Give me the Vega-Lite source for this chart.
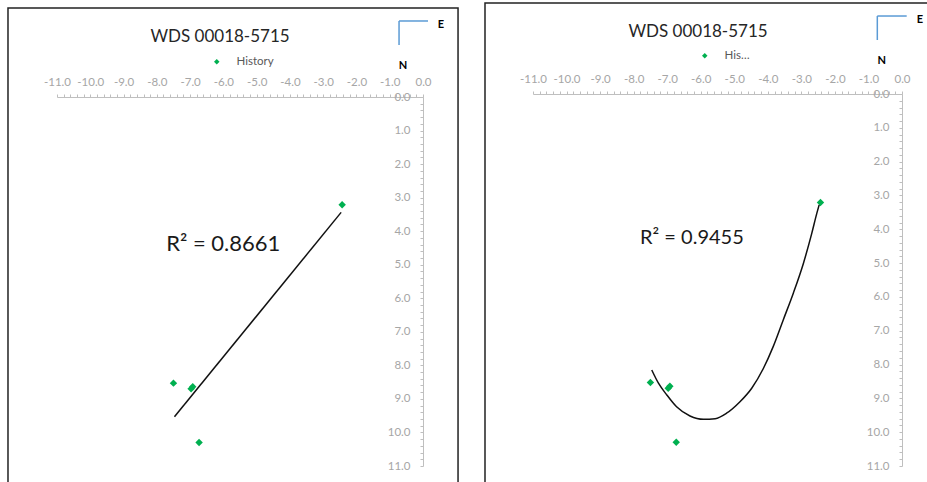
{
  "$schema": "https://vega.github.io/schema/vega-lite/v6.json",
  "width": 927,
  "height": 482,
  "autosize": {"type": "none"},
  "padding": 0,
  "config": {
    "view": {"stroke": null},
    "font": "Lato",
    "axis": {"grid": false, "domainColor": "#BFBFBF", "tickColor": "#BFBFBF", "tickSize": 3, "labelColor": "#A6A6A6", "labelFont": "Lato", "labelFontSize": 11.5, "labelOverlap": false, "labelFlush": false, "labelBound": false}
  },
  "datasets": {
    "points": [
      {"x": -2.43, "y": 3.21, "series": "History"},
      {"x": -7.5, "y": 8.53, "series": "History"},
      {"x": -6.97, "y": 8.7, "series": "History"},
      {"x": -6.92, "y": 8.64, "series": "History"},
      {"x": -6.73, "y": 10.3, "series": "History"}
    ],
    "linfit": [
      {"x": -7.47, "y": 9.53},
      {"x": -2.46, "y": 3.44}
    ],
    "polyfit": [
      {"x": -7.46, "y": 8.16},
      {"x": -7.26, "y": 8.55},
      {"x": -7.01, "y": 8.9},
      {"x": -6.72, "y": 9.25},
      {"x": -6.32, "y": 9.52},
      {"x": -5.92, "y": 9.62},
      {"x": -5.57, "y": 9.6},
      {"x": -5.23, "y": 9.44},
      {"x": -4.83, "y": 9.1},
      {"x": -4.48, "y": 8.7},
      {"x": -4.13, "y": 8.11},
      {"x": -3.84, "y": 7.47},
      {"x": -3.54, "y": 6.68},
      {"x": -3.24, "y": 5.89},
      {"x": -2.94, "y": 5.01},
      {"x": -2.69, "y": 4.12},
      {"x": -2.54, "y": 3.53},
      {"x": -2.47, "y": 3.28}
    ]
  },
  "layer": [
    {
      "layer": [
        {
          "data": {"name": "points"},
          "mark": {"type": "point", "shape": "diamond", "filled": true, "size": 55, "opacity": 1},
          "encoding": {
            "x": {"field": "x", "type": "quantitative", "scale": {"domain": [-11, 0], "range": [57, 423], "nice": false, "zero": false},
              "axis": {"orient": "top", "offset": -97, "title": null, "labelPadding": 7, "values": [-11,-10.8,-10.6,-10.4,-10.2,-10,-9.8,-9.6,-9.4,-9.2,-9,-8.8,-8.6,-8.4,-8.2,-8,-7.8,-7.6,-7.4,-7.2,-7,-6.8,-6.6,-6.4,-6.2,-6,-5.8,-5.6,-5.4,-5.2,-5,-4.8,-4.6,-4.4,-4.2,-4,-3.8,-3.6,-3.4,-3.2,-3,-2.8,-2.6,-2.4,-2.2,-2,-1.8,-1.6,-1.4,-1.2,-1,-0.8,-0.6,-0.4,-0.2,0], "labelExpr": "abs(datum.value - round(datum.value)) < 0.01 ? (datum.value < -0.001 ? '-' + format(-datum.value, '.1f') : format(abs(datum.value), '.1f')) : ''"}},
            "y": {"field": "y", "type": "quantitative", "scale": {"domain": [0, 11], "range": [97, 466], "nice": false, "zero": false},
              "axis": {"orient": "left", "offset": -423, "title": null, "labelPadding": 10, "values": [0,0.2,0.4,0.6,0.8,1,1.2,1.4,1.6,1.8,2,2.2,2.4,2.6,2.8,3,3.2,3.4,3.6,3.8,4,4.2,4.4,4.6,4.8,5,5.2,5.4,5.6,5.8,6,6.2,6.4,6.6,6.8,7,7.2,7.4,7.6,7.8,8,8.2,8.4,8.6,8.8,9,9.2,9.4,9.6,9.8,10,10.2,10.4,10.6,10.8,11], "labelExpr": "abs(datum.value - round(datum.value)) < 0.01 ? format(abs(datum.value), '.1f') : ''"}},
            "color": {"field": "series", "type": "nominal", "scale": {"range": ["#00B050"]},
              "legend": {"orient": "none", "legendX": 211, "legendY": 56, "title": null, "symbolType": "diamond", "symbolSize": 30,
                "labelFont": "Lato", "labelFontSize": 11.5, "labelColor": "#595959", "labelOffset": 14}}
          }
        },
        {
          "data": {"values": [{}]},
          "mark": {"type": "rect", "filled": false, "fillOpacity": 0, "stroke": "#222222", "strokeWidth": 1.5},
          "encoding": {
            "x": {"datum": -12.473, "type": "quantitative", "scale": {"domain": [-11, 0], "range": [57, 423], "nice": false, "zero": false},
              "axis": {"orient": "top", "offset": -97, "title": null, "labelPadding": 7, "values": [-11,-10.8,-10.6,-10.4,-10.2,-10,-9.8,-9.6,-9.4,-9.2,-9,-8.8,-8.6,-8.4,-8.2,-8,-7.8,-7.6,-7.4,-7.2,-7,-6.8,-6.6,-6.4,-6.2,-6,-5.8,-5.6,-5.4,-5.2,-5,-4.8,-4.6,-4.4,-4.2,-4,-3.8,-3.6,-3.4,-3.2,-3,-2.8,-2.6,-2.4,-2.2,-2,-1.8,-1.6,-1.4,-1.2,-1,-0.8,-0.6,-0.4,-0.2,0], "labelExpr": "abs(datum.value - round(datum.value)) < 0.01 ? (datum.value < -0.001 ? '-' + format(-datum.value, '.1f') : format(abs(datum.value), '.1f')) : ''"}},
            "x2": {"datum": 1.053},
            "y": {"datum": -2.653, "type": "quantitative", "scale": {"domain": [0, 11], "range": [97, 466], "nice": false, "zero": false},
              "axis": {"orient": "left", "offset": -423, "title": null, "labelPadding": 10, "values": [0,0.2,0.4,0.6,0.8,1,1.2,1.4,1.6,1.8,2,2.2,2.4,2.6,2.8,3,3.2,3.4,3.6,3.8,4,4.2,4.4,4.6,4.8,5,5.2,5.4,5.6,5.8,6,6.2,6.4,6.6,6.8,7,7.2,7.4,7.6,7.8,8,8.2,8.4,8.6,8.8,9,9.2,9.4,9.6,9.8,10,10.2,10.4,10.6,10.8,11], "labelExpr": "abs(datum.value - round(datum.value)) < 0.01 ? format(abs(datum.value), '.1f') : ''"}},
            "y2": {"datum": 12.5}
          }
        },
        {
          "data": {"name": "linfit"},
          "mark": {"type": "line", "color": "#111111", "strokeWidth": 1.5},
          "encoding": {
            "x": {"field": "x", "type": "quantitative", "scale": {"domain": [-11, 0], "range": [57, 423], "nice": false, "zero": false},
              "axis": {"orient": "top", "offset": -97, "title": null, "labelPadding": 7, "values": [-11,-10.8,-10.6,-10.4,-10.2,-10,-9.8,-9.6,-9.4,-9.2,-9,-8.8,-8.6,-8.4,-8.2,-8,-7.8,-7.6,-7.4,-7.2,-7,-6.8,-6.6,-6.4,-6.2,-6,-5.8,-5.6,-5.4,-5.2,-5,-4.8,-4.6,-4.4,-4.2,-4,-3.8,-3.6,-3.4,-3.2,-3,-2.8,-2.6,-2.4,-2.2,-2,-1.8,-1.6,-1.4,-1.2,-1,-0.8,-0.6,-0.4,-0.2,0], "labelExpr": "abs(datum.value - round(datum.value)) < 0.01 ? (datum.value < -0.001 ? '-' + format(-datum.value, '.1f') : format(abs(datum.value), '.1f')) : ''"}},
            "y": {"field": "y", "type": "quantitative", "scale": {"domain": [0, 11], "range": [97, 466], "nice": false, "zero": false},
              "axis": {"orient": "left", "offset": -423, "title": null, "labelPadding": 10, "values": [0,0.2,0.4,0.6,0.8,1,1.2,1.4,1.6,1.8,2,2.2,2.4,2.6,2.8,3,3.2,3.4,3.6,3.8,4,4.2,4.4,4.6,4.8,5,5.2,5.4,5.6,5.8,6,6.2,6.4,6.6,6.8,7,7.2,7.4,7.6,7.8,8,8.2,8.4,8.6,8.8,9,9.2,9.4,9.6,9.8,10,10.2,10.4,10.6,10.8,11], "labelExpr": "abs(datum.value - round(datum.value)) < 0.01 ? format(abs(datum.value), '.1f') : ''"}}
          }
        },
        {
          "data": {"values": [{}]},
          "mark": {"type": "text", "text": "WDS 00018-5715", "font": "Lato", "fontSize": 17, "color": "#262626", "align": "center", "baseline": "middle"},
          "encoding": {
            "x": {"datum": -6.1, "type": "quantitative",
              "axis": {"orient": "top", "offset": -97, "title": null, "labelPadding": 7, "values": [-11,-10.8,-10.6,-10.4,-10.2,-10,-9.8,-9.6,-9.4,-9.2,-9,-8.8,-8.6,-8.4,-8.2,-8,-7.8,-7.6,-7.4,-7.2,-7,-6.8,-6.6,-6.4,-6.2,-6,-5.8,-5.6,-5.4,-5.2,-5,-4.8,-4.6,-4.4,-4.2,-4,-3.8,-3.6,-3.4,-3.2,-3,-2.8,-2.6,-2.4,-2.2,-2,-1.8,-1.6,-1.4,-1.2,-1,-0.8,-0.6,-0.4,-0.2,0], "labelExpr": "abs(datum.value - round(datum.value)) < 0.01 ? (datum.value < -0.001 ? '-' + format(-datum.value, '.1f') : format(abs(datum.value), '.1f')) : ''"}},
            "y": {"datum": -1.79, "type": "quantitative",
              "axis": {"orient": "left", "offset": -423, "title": null, "labelPadding": 10, "values": [0,0.2,0.4,0.6,0.8,1,1.2,1.4,1.6,1.8,2,2.2,2.4,2.6,2.8,3,3.2,3.4,3.6,3.8,4,4.2,4.4,4.6,4.8,5,5.2,5.4,5.6,5.8,6,6.2,6.4,6.6,6.8,7,7.2,7.4,7.6,7.8,8,8.2,8.4,8.6,8.8,9,9.2,9.4,9.6,9.8,10,10.2,10.4,10.6,10.8,11], "labelExpr": "abs(datum.value - round(datum.value)) < 0.01 ? format(abs(datum.value), '.1f') : ''"}}
          }
        },
        {
          "data": {"values": [{}]},
          "mark": {"type": "text", "text": "R² = 0.8661", "font": "Lato", "fontSize": 22, "color": "#1A1A1A", "align": "left", "baseline": "alphabetic"},
          "encoding": {
            "x": {"datum": -7.72, "type": "quantitative",
              "axis": {"orient": "top", "offset": -97, "title": null, "labelPadding": 7, "values": [-11,-10.8,-10.6,-10.4,-10.2,-10,-9.8,-9.6,-9.4,-9.2,-9,-8.8,-8.6,-8.4,-8.2,-8,-7.8,-7.6,-7.4,-7.2,-7,-6.8,-6.6,-6.4,-6.2,-6,-5.8,-5.6,-5.4,-5.2,-5,-4.8,-4.6,-4.4,-4.2,-4,-3.8,-3.6,-3.4,-3.2,-3,-2.8,-2.6,-2.4,-2.2,-2,-1.8,-1.6,-1.4,-1.2,-1,-0.8,-0.6,-0.4,-0.2,0], "labelExpr": "abs(datum.value - round(datum.value)) < 0.01 ? (datum.value < -0.001 ? '-' + format(-datum.value, '.1f') : format(abs(datum.value), '.1f')) : ''"}},
            "y": {"datum": 4.59, "type": "quantitative",
              "axis": {"orient": "left", "offset": -423, "title": null, "labelPadding": 10, "values": [0,0.2,0.4,0.6,0.8,1,1.2,1.4,1.6,1.8,2,2.2,2.4,2.6,2.8,3,3.2,3.4,3.6,3.8,4,4.2,4.4,4.6,4.8,5,5.2,5.4,5.6,5.8,6,6.2,6.4,6.6,6.8,7,7.2,7.4,7.6,7.8,8,8.2,8.4,8.6,8.8,9,9.2,9.4,9.6,9.8,10,10.2,10.4,10.6,10.8,11], "labelExpr": "abs(datum.value - round(datum.value)) < 0.01 ? format(abs(datum.value), '.1f') : ''"}}
          }
        },
        {
          "data": {"values": [{}]},
          "mark": {"type": "rule", "color": "#5B9BD5", "strokeWidth": 1.5},
          "encoding": {
            "x": {"datum": -0.72, "type": "quantitative",
              "axis": {"orient": "top", "offset": -97, "title": null, "labelPadding": 7, "values": [-11,-10.8,-10.6,-10.4,-10.2,-10,-9.8,-9.6,-9.4,-9.2,-9,-8.8,-8.6,-8.4,-8.2,-8,-7.8,-7.6,-7.4,-7.2,-7,-6.8,-6.6,-6.4,-6.2,-6,-5.8,-5.6,-5.4,-5.2,-5,-4.8,-4.6,-4.4,-4.2,-4,-3.8,-3.6,-3.4,-3.2,-3,-2.8,-2.6,-2.4,-2.2,-2,-1.8,-1.6,-1.4,-1.2,-1,-0.8,-0.6,-0.4,-0.2,0], "labelExpr": "abs(datum.value - round(datum.value)) < 0.01 ? (datum.value < -0.001 ? '-' + format(-datum.value, '.1f') : format(abs(datum.value), '.1f')) : ''"}},
            "x2": {"datum": 0.151},
            "y": {"datum": -2.266, "type": "quantitative",
              "axis": {"orient": "left", "offset": -423, "title": null, "labelPadding": 10, "values": [0,0.2,0.4,0.6,0.8,1,1.2,1.4,1.6,1.8,2,2.2,2.4,2.6,2.8,3,3.2,3.4,3.6,3.8,4,4.2,4.4,4.6,4.8,5,5.2,5.4,5.6,5.8,6,6.2,6.4,6.6,6.8,7,7.2,7.4,7.6,7.8,8,8.2,8.4,8.6,8.8,9,9.2,9.4,9.6,9.8,10,10.2,10.4,10.6,10.8,11], "labelExpr": "abs(datum.value - round(datum.value)) < 0.01 ? format(abs(datum.value), '.1f') : ''"}}
          }
        },
        {
          "data": {"values": [{}]},
          "mark": {"type": "rule", "color": "#5B9BD5", "strokeWidth": 1.5},
          "encoding": {
            "x": {"datum": -0.72, "type": "quantitative",
              "axis": {"orient": "top", "offset": -97, "title": null, "labelPadding": 7, "values": [-11,-10.8,-10.6,-10.4,-10.2,-10,-9.8,-9.6,-9.4,-9.2,-9,-8.8,-8.6,-8.4,-8.2,-8,-7.8,-7.6,-7.4,-7.2,-7,-6.8,-6.6,-6.4,-6.2,-6,-5.8,-5.6,-5.4,-5.2,-5,-4.8,-4.6,-4.4,-4.2,-4,-3.8,-3.6,-3.4,-3.2,-3,-2.8,-2.6,-2.4,-2.2,-2,-1.8,-1.6,-1.4,-1.2,-1,-0.8,-0.6,-0.4,-0.2,0], "labelExpr": "abs(datum.value - round(datum.value)) < 0.01 ? (datum.value < -0.001 ? '-' + format(-datum.value, '.1f') : format(abs(datum.value), '.1f')) : ''"}},
            "y": {"datum": -2.266, "type": "quantitative",
              "axis": {"orient": "left", "offset": -423, "title": null, "labelPadding": 10, "values": [0,0.2,0.4,0.6,0.8,1,1.2,1.4,1.6,1.8,2,2.2,2.4,2.6,2.8,3,3.2,3.4,3.6,3.8,4,4.2,4.4,4.6,4.8,5,5.2,5.4,5.6,5.8,6,6.2,6.4,6.6,6.8,7,7.2,7.4,7.6,7.8,8,8.2,8.4,8.6,8.8,9,9.2,9.4,9.6,9.8,10,10.2,10.4,10.6,10.8,11], "labelExpr": "abs(datum.value - round(datum.value)) < 0.01 ? format(abs(datum.value), '.1f') : ''"}},
            "y2": {"datum": -1.55}
          }
        },
        {
          "data": {"values": [{}]},
          "mark": {"type": "text", "text": "E", "font": "Lato", "fontSize": 11, "fontWeight": "bold", "color": "#000000", "align": "center", "baseline": "middle"},
          "encoding": {
            "x": {"datum": 0.54, "type": "quantitative",
              "axis": {"orient": "top", "offset": -97, "title": null, "labelPadding": 7, "values": [-11,-10.8,-10.6,-10.4,-10.2,-10,-9.8,-9.6,-9.4,-9.2,-9,-8.8,-8.6,-8.4,-8.2,-8,-7.8,-7.6,-7.4,-7.2,-7,-6.8,-6.6,-6.4,-6.2,-6,-5.8,-5.6,-5.4,-5.2,-5,-4.8,-4.6,-4.4,-4.2,-4,-3.8,-3.6,-3.4,-3.2,-3,-2.8,-2.6,-2.4,-2.2,-2,-1.8,-1.6,-1.4,-1.2,-1,-0.8,-0.6,-0.4,-0.2,0], "labelExpr": "abs(datum.value - round(datum.value)) < 0.01 ? (datum.value < -0.001 ? '-' + format(-datum.value, '.1f') : format(abs(datum.value), '.1f')) : ''"}},
            "y": {"datum": -2.146, "type": "quantitative",
              "axis": {"orient": "left", "offset": -423, "title": null, "labelPadding": 10, "values": [0,0.2,0.4,0.6,0.8,1,1.2,1.4,1.6,1.8,2,2.2,2.4,2.6,2.8,3,3.2,3.4,3.6,3.8,4,4.2,4.4,4.6,4.8,5,5.2,5.4,5.6,5.8,6,6.2,6.4,6.6,6.8,7,7.2,7.4,7.6,7.8,8,8.2,8.4,8.6,8.8,9,9.2,9.4,9.6,9.8,10,10.2,10.4,10.6,10.8,11], "labelExpr": "abs(datum.value - round(datum.value)) < 0.01 ? format(abs(datum.value), '.1f') : ''"}}
          }
        },
        {
          "data": {"values": [{}]},
          "mark": {"type": "text", "text": "N", "font": "Lato", "fontSize": 11, "fontWeight": "bold", "color": "#000000", "align": "center", "baseline": "middle"},
          "encoding": {
            "x": {"datum": -0.6, "type": "quantitative",
              "axis": {"orient": "top", "offset": -97, "title": null, "labelPadding": 7, "values": [-11,-10.8,-10.6,-10.4,-10.2,-10,-9.8,-9.6,-9.4,-9.2,-9,-8.8,-8.6,-8.4,-8.2,-8,-7.8,-7.6,-7.4,-7.2,-7,-6.8,-6.6,-6.4,-6.2,-6,-5.8,-5.6,-5.4,-5.2,-5,-4.8,-4.6,-4.4,-4.2,-4,-3.8,-3.6,-3.4,-3.2,-3,-2.8,-2.6,-2.4,-2.2,-2,-1.8,-1.6,-1.4,-1.2,-1,-0.8,-0.6,-0.4,-0.2,0], "labelExpr": "abs(datum.value - round(datum.value)) < 0.01 ? (datum.value < -0.001 ? '-' + format(-datum.value, '.1f') : format(abs(datum.value), '.1f')) : ''"}},
            "y": {"datum": -0.924, "type": "quantitative",
              "axis": {"orient": "left", "offset": -423, "title": null, "labelPadding": 10, "values": [0,0.2,0.4,0.6,0.8,1,1.2,1.4,1.6,1.8,2,2.2,2.4,2.6,2.8,3,3.2,3.4,3.6,3.8,4,4.2,4.4,4.6,4.8,5,5.2,5.4,5.6,5.8,6,6.2,6.4,6.6,6.8,7,7.2,7.4,7.6,7.8,8,8.2,8.4,8.6,8.8,9,9.2,9.4,9.6,9.8,10,10.2,10.4,10.6,10.8,11], "labelExpr": "abs(datum.value - round(datum.value)) < 0.01 ? format(abs(datum.value), '.1f') : ''"}}
          }
        }
      ]
    },
    {
      "layer": [
        {
          "data": {"name": "points"},
          "mark": {"type": "point", "shape": "diamond", "filled": true, "size": 55, "opacity": 1},
          "encoding": {
            "x": {"field": "x", "type": "quantitative", "scale": {"domain": [-11, 0], "range": [533, 902], "nice": false, "zero": false},
              "axis": {"orient": "top", "offset": -94, "title": null, "labelPadding": 7, "values": [-11,-10.8,-10.6,-10.4,-10.2,-10,-9.8,-9.6,-9.4,-9.2,-9,-8.8,-8.6,-8.4,-8.2,-8,-7.8,-7.6,-7.4,-7.2,-7,-6.8,-6.6,-6.4,-6.2,-6,-5.8,-5.6,-5.4,-5.2,-5,-4.8,-4.6,-4.4,-4.2,-4,-3.8,-3.6,-3.4,-3.2,-3,-2.8,-2.6,-2.4,-2.2,-2,-1.8,-1.6,-1.4,-1.2,-1,-0.8,-0.6,-0.4,-0.2,0], "labelExpr": "abs(datum.value - round(datum.value)) < 0.01 ? (datum.value < -0.001 ? '-' + format(-datum.value, '.1f') : format(abs(datum.value), '.1f')) : ''"}},
            "y": {"field": "y", "type": "quantitative", "scale": {"domain": [0, 11], "range": [94, 466], "nice": false, "zero": false},
              "axis": {"orient": "left", "offset": -902, "title": null, "labelPadding": 10, "values": [0,0.2,0.4,0.6,0.8,1,1.2,1.4,1.6,1.8,2,2.2,2.4,2.6,2.8,3,3.2,3.4,3.6,3.8,4,4.2,4.4,4.6,4.8,5,5.2,5.4,5.6,5.8,6,6.2,6.4,6.6,6.8,7,7.2,7.4,7.6,7.8,8,8.2,8.4,8.6,8.8,9,9.2,9.4,9.6,9.8,10,10.2,10.4,10.6,10.8,11], "labelExpr": "abs(datum.value - round(datum.value)) < 0.01 ? format(abs(datum.value), '.1f') : ''"}},
            "color": {"field": "series", "type": "nominal", "scale": {"range": ["#00B050"]},
              "legend": {"orient": "none", "legendX": 699, "legendY": 50, "title": null, "symbolType": "diamond", "symbolSize": 30,
                "labelFont": "Lato", "labelFontSize": 11.5, "labelColor": "#595959", "labelOffset": 14, "labelLimit": 29}}
          }
        },
        {
          "data": {"values": [{}]},
          "mark": {"type": "rect", "filled": false, "fillOpacity": 0, "stroke": "#222222", "strokeWidth": 1.5},
          "encoding": {
            "x": {"datum": -12.431, "type": "quantitative", "scale": {"domain": [-11, 0], "range": [533, 902], "nice": false, "zero": false},
              "axis": {"orient": "top", "offset": -94, "title": null, "labelPadding": 7, "values": [-11,-10.8,-10.6,-10.4,-10.2,-10,-9.8,-9.6,-9.4,-9.2,-9,-8.8,-8.6,-8.4,-8.2,-8,-7.8,-7.6,-7.4,-7.2,-7,-6.8,-6.6,-6.4,-6.2,-6,-5.8,-5.6,-5.4,-5.2,-5,-4.8,-4.6,-4.4,-4.2,-4,-3.8,-3.6,-3.4,-3.2,-3,-2.8,-2.6,-2.4,-2.2,-2,-1.8,-1.6,-1.4,-1.2,-1,-0.8,-0.6,-0.4,-0.2,0], "labelExpr": "abs(datum.value - round(datum.value)) < 0.01 ? (datum.value < -0.001 ? '-' + format(-datum.value, '.1f') : format(abs(datum.value), '.1f')) : ''"}},
            "x2": {"datum": 1.6},
            "y": {"datum": -2.69, "type": "quantitative", "scale": {"domain": [0, 11], "range": [94, 466], "nice": false, "zero": false},
              "axis": {"orient": "left", "offset": -902, "title": null, "labelPadding": 10, "values": [0,0.2,0.4,0.6,0.8,1,1.2,1.4,1.6,1.8,2,2.2,2.4,2.6,2.8,3,3.2,3.4,3.6,3.8,4,4.2,4.4,4.6,4.8,5,5.2,5.4,5.6,5.8,6,6.2,6.4,6.6,6.8,7,7.2,7.4,7.6,7.8,8,8.2,8.4,8.6,8.8,9,9.2,9.4,9.6,9.8,10,10.2,10.4,10.6,10.8,11], "labelExpr": "abs(datum.value - round(datum.value)) < 0.01 ? format(abs(datum.value), '.1f') : ''"}},
            "y2": {"datum": 12.5}
          }
        },
        {
          "data": {"name": "polyfit"},
          "mark": {"type": "line", "color": "#111111", "strokeWidth": 1.5, "interpolate": "monotone"},
          "encoding": {
            "x": {"field": "x", "type": "quantitative", "scale": {"domain": [-11, 0], "range": [533, 902], "nice": false, "zero": false},
              "axis": {"orient": "top", "offset": -94, "title": null, "labelPadding": 7, "values": [-11,-10.8,-10.6,-10.4,-10.2,-10,-9.8,-9.6,-9.4,-9.2,-9,-8.8,-8.6,-8.4,-8.2,-8,-7.8,-7.6,-7.4,-7.2,-7,-6.8,-6.6,-6.4,-6.2,-6,-5.8,-5.6,-5.4,-5.2,-5,-4.8,-4.6,-4.4,-4.2,-4,-3.8,-3.6,-3.4,-3.2,-3,-2.8,-2.6,-2.4,-2.2,-2,-1.8,-1.6,-1.4,-1.2,-1,-0.8,-0.6,-0.4,-0.2,0], "labelExpr": "abs(datum.value - round(datum.value)) < 0.01 ? (datum.value < -0.001 ? '-' + format(-datum.value, '.1f') : format(abs(datum.value), '.1f')) : ''"}},
            "y": {"field": "y", "type": "quantitative", "scale": {"domain": [0, 11], "range": [94, 466], "nice": false, "zero": false},
              "axis": {"orient": "left", "offset": -902, "title": null, "labelPadding": 10, "values": [0,0.2,0.4,0.6,0.8,1,1.2,1.4,1.6,1.8,2,2.2,2.4,2.6,2.8,3,3.2,3.4,3.6,3.8,4,4.2,4.4,4.6,4.8,5,5.2,5.4,5.6,5.8,6,6.2,6.4,6.6,6.8,7,7.2,7.4,7.6,7.8,8,8.2,8.4,8.6,8.8,9,9.2,9.4,9.6,9.8,10,10.2,10.4,10.6,10.8,11], "labelExpr": "abs(datum.value - round(datum.value)) < 0.01 ? format(abs(datum.value), '.1f') : ''"}}
          }
        },
        {
          "data": {"values": [{}]},
          "mark": {"type": "text", "text": "WDS 00018-5715", "font": "Lato", "fontSize": 17, "color": "#262626", "align": "center", "baseline": "middle"},
          "encoding": {
            "x": {"datum": -6.08, "type": "quantitative",
              "axis": {"orient": "top", "offset": -94, "title": null, "labelPadding": 7, "values": [-11,-10.8,-10.6,-10.4,-10.2,-10,-9.8,-9.6,-9.4,-9.2,-9,-8.8,-8.6,-8.4,-8.2,-8,-7.8,-7.6,-7.4,-7.2,-7,-6.8,-6.6,-6.4,-6.2,-6,-5.8,-5.6,-5.4,-5.2,-5,-4.8,-4.6,-4.4,-4.2,-4,-3.8,-3.6,-3.4,-3.2,-3,-2.8,-2.6,-2.4,-2.2,-2,-1.8,-1.6,-1.4,-1.2,-1,-0.8,-0.6,-0.4,-0.2,0], "labelExpr": "abs(datum.value - round(datum.value)) < 0.01 ? (datum.value < -0.001 ? '-' + format(-datum.value, '.1f') : format(abs(datum.value), '.1f')) : ''"}},
            "y": {"datum": -1.833, "type": "quantitative",
              "axis": {"orient": "left", "offset": -902, "title": null, "labelPadding": 10, "values": [0,0.2,0.4,0.6,0.8,1,1.2,1.4,1.6,1.8,2,2.2,2.4,2.6,2.8,3,3.2,3.4,3.6,3.8,4,4.2,4.4,4.6,4.8,5,5.2,5.4,5.6,5.8,6,6.2,6.4,6.6,6.8,7,7.2,7.4,7.6,7.8,8,8.2,8.4,8.6,8.8,9,9.2,9.4,9.6,9.8,10,10.2,10.4,10.6,10.8,11], "labelExpr": "abs(datum.value - round(datum.value)) < 0.01 ? format(abs(datum.value), '.1f') : ''"}}
          }
        },
        {
          "data": {"values": [{}]},
          "mark": {"type": "text", "text": "R² = 0.9455", "font": "Lato", "fontSize": 20, "color": "#1A1A1A", "align": "left", "baseline": "alphabetic"},
          "encoding": {
            "x": {"datum": -7.81, "type": "quantitative",
              "axis": {"orient": "top", "offset": -94, "title": null, "labelPadding": 7, "values": [-11,-10.8,-10.6,-10.4,-10.2,-10,-9.8,-9.6,-9.4,-9.2,-9,-8.8,-8.6,-8.4,-8.2,-8,-7.8,-7.6,-7.4,-7.2,-7,-6.8,-6.6,-6.4,-6.2,-6,-5.8,-5.6,-5.4,-5.2,-5,-4.8,-4.6,-4.4,-4.2,-4,-3.8,-3.6,-3.4,-3.2,-3,-2.8,-2.6,-2.4,-2.2,-2,-1.8,-1.6,-1.4,-1.2,-1,-0.8,-0.6,-0.4,-0.2,0], "labelExpr": "abs(datum.value - round(datum.value)) < 0.01 ? (datum.value < -0.001 ? '-' + format(-datum.value, '.1f') : format(abs(datum.value), '.1f')) : ''"}},
            "y": {"datum": 4.435, "type": "quantitative",
              "axis": {"orient": "left", "offset": -902, "title": null, "labelPadding": 10, "values": [0,0.2,0.4,0.6,0.8,1,1.2,1.4,1.6,1.8,2,2.2,2.4,2.6,2.8,3,3.2,3.4,3.6,3.8,4,4.2,4.4,4.6,4.8,5,5.2,5.4,5.6,5.8,6,6.2,6.4,6.6,6.8,7,7.2,7.4,7.6,7.8,8,8.2,8.4,8.6,8.8,9,9.2,9.4,9.6,9.8,10,10.2,10.4,10.6,10.8,11], "labelExpr": "abs(datum.value - round(datum.value)) < 0.01 ? format(abs(datum.value), '.1f') : ''"}}
          }
        },
        {
          "data": {"values": [{}]},
          "mark": {"type": "rule", "color": "#5B9BD5", "strokeWidth": 1.5},
          "encoding": {
            "x": {"datum": -0.736, "type": "quantitative",
              "axis": {"orient": "top", "offset": -94, "title": null, "labelPadding": 7, "values": [-11,-10.8,-10.6,-10.4,-10.2,-10,-9.8,-9.6,-9.4,-9.2,-9,-8.8,-8.6,-8.4,-8.2,-8,-7.8,-7.6,-7.4,-7.2,-7,-6.8,-6.6,-6.4,-6.2,-6,-5.8,-5.6,-5.4,-5.2,-5,-4.8,-4.6,-4.4,-4.2,-4,-3.8,-3.6,-3.4,-3.2,-3,-2.8,-2.6,-2.4,-2.2,-2,-1.8,-1.6,-1.4,-1.2,-1,-0.8,-0.6,-0.4,-0.2,0], "labelExpr": "abs(datum.value - round(datum.value)) < 0.01 ? (datum.value < -0.001 ? '-' + format(-datum.value, '.1f') : format(abs(datum.value), '.1f')) : ''"}},
            "x2": {"datum": 0.14},
            "y": {"datum": -2.306, "type": "quantitative",
              "axis": {"orient": "left", "offset": -902, "title": null, "labelPadding": 10, "values": [0,0.2,0.4,0.6,0.8,1,1.2,1.4,1.6,1.8,2,2.2,2.4,2.6,2.8,3,3.2,3.4,3.6,3.8,4,4.2,4.4,4.6,4.8,5,5.2,5.4,5.6,5.8,6,6.2,6.4,6.6,6.8,7,7.2,7.4,7.6,7.8,8,8.2,8.4,8.6,8.8,9,9.2,9.4,9.6,9.8,10,10.2,10.4,10.6,10.8,11], "labelExpr": "abs(datum.value - round(datum.value)) < 0.01 ? format(abs(datum.value), '.1f') : ''"}}
          }
        },
        {
          "data": {"values": [{}]},
          "mark": {"type": "rule", "color": "#5B9BD5", "strokeWidth": 1.5},
          "encoding": {
            "x": {"datum": -0.736, "type": "quantitative",
              "axis": {"orient": "top", "offset": -94, "title": null, "labelPadding": 7, "values": [-11,-10.8,-10.6,-10.4,-10.2,-10,-9.8,-9.6,-9.4,-9.2,-9,-8.8,-8.6,-8.4,-8.2,-8,-7.8,-7.6,-7.4,-7.2,-7,-6.8,-6.6,-6.4,-6.2,-6,-5.8,-5.6,-5.4,-5.2,-5,-4.8,-4.6,-4.4,-4.2,-4,-3.8,-3.6,-3.4,-3.2,-3,-2.8,-2.6,-2.4,-2.2,-2,-1.8,-1.6,-1.4,-1.2,-1,-0.8,-0.6,-0.4,-0.2,0], "labelExpr": "abs(datum.value - round(datum.value)) < 0.01 ? (datum.value < -0.001 ? '-' + format(-datum.value, '.1f') : format(abs(datum.value), '.1f')) : ''"}},
            "y": {"datum": -2.306, "type": "quantitative",
              "axis": {"orient": "left", "offset": -902, "title": null, "labelPadding": 10, "values": [0,0.2,0.4,0.6,0.8,1,1.2,1.4,1.6,1.8,2,2.2,2.4,2.6,2.8,3,3.2,3.4,3.6,3.8,4,4.2,4.4,4.6,4.8,5,5.2,5.4,5.6,5.8,6,6.2,6.4,6.6,6.8,7,7.2,7.4,7.6,7.8,8,8.2,8.4,8.6,8.8,9,9.2,9.4,9.6,9.8,10,10.2,10.4,10.6,10.8,11], "labelExpr": "abs(datum.value - round(datum.value)) < 0.01 ? format(abs(datum.value), '.1f') : ''"}},
            "y2": {"datum": -1.597}
          }
        },
        {
          "data": {"values": [{}]},
          "mark": {"type": "text", "text": "E", "font": "Lato", "fontSize": 11, "fontWeight": "bold", "color": "#000000", "align": "center", "baseline": "middle"},
          "encoding": {
            "x": {"datum": 0.537, "type": "quantitative",
              "axis": {"orient": "top", "offset": -94, "title": null, "labelPadding": 7, "values": [-11,-10.8,-10.6,-10.4,-10.2,-10,-9.8,-9.6,-9.4,-9.2,-9,-8.8,-8.6,-8.4,-8.2,-8,-7.8,-7.6,-7.4,-7.2,-7,-6.8,-6.6,-6.4,-6.2,-6,-5.8,-5.6,-5.4,-5.2,-5,-4.8,-4.6,-4.4,-4.2,-4,-3.8,-3.6,-3.4,-3.2,-3,-2.8,-2.6,-2.4,-2.2,-2,-1.8,-1.6,-1.4,-1.2,-1,-0.8,-0.6,-0.4,-0.2,0], "labelExpr": "abs(datum.value - round(datum.value)) < 0.01 ? (datum.value < -0.001 ? '-' + format(-datum.value, '.1f') : format(abs(datum.value), '.1f')) : ''"}},
            "y": {"datum": -2.188, "type": "quantitative",
              "axis": {"orient": "left", "offset": -902, "title": null, "labelPadding": 10, "values": [0,0.2,0.4,0.6,0.8,1,1.2,1.4,1.6,1.8,2,2.2,2.4,2.6,2.8,3,3.2,3.4,3.6,3.8,4,4.2,4.4,4.6,4.8,5,5.2,5.4,5.6,5.8,6,6.2,6.4,6.6,6.8,7,7.2,7.4,7.6,7.8,8,8.2,8.4,8.6,8.8,9,9.2,9.4,9.6,9.8,10,10.2,10.4,10.6,10.8,11], "labelExpr": "abs(datum.value - round(datum.value)) < 0.01 ? format(abs(datum.value), '.1f') : ''"}}
          }
        },
        {
          "data": {"values": [{}]},
          "mark": {"type": "text", "text": "N", "font": "Lato", "fontSize": 11, "fontWeight": "bold", "color": "#000000", "align": "center", "baseline": "middle"},
          "encoding": {
            "x": {"datum": -0.605, "type": "quantitative",
              "axis": {"orient": "top", "offset": -94, "title": null, "labelPadding": 7, "values": [-11,-10.8,-10.6,-10.4,-10.2,-10,-9.8,-9.6,-9.4,-9.2,-9,-8.8,-8.6,-8.4,-8.2,-8,-7.8,-7.6,-7.4,-7.2,-7,-6.8,-6.6,-6.4,-6.2,-6,-5.8,-5.6,-5.4,-5.2,-5,-4.8,-4.6,-4.4,-4.2,-4,-3.8,-3.6,-3.4,-3.2,-3,-2.8,-2.6,-2.4,-2.2,-2,-1.8,-1.6,-1.4,-1.2,-1,-0.8,-0.6,-0.4,-0.2,0], "labelExpr": "abs(datum.value - round(datum.value)) < 0.01 ? (datum.value < -0.001 ? '-' + format(-datum.value, '.1f') : format(abs(datum.value), '.1f')) : ''"}},
            "y": {"datum": -0.976, "type": "quantitative",
              "axis": {"orient": "left", "offset": -902, "title": null, "labelPadding": 10, "values": [0,0.2,0.4,0.6,0.8,1,1.2,1.4,1.6,1.8,2,2.2,2.4,2.6,2.8,3,3.2,3.4,3.6,3.8,4,4.2,4.4,4.6,4.8,5,5.2,5.4,5.6,5.8,6,6.2,6.4,6.6,6.8,7,7.2,7.4,7.6,7.8,8,8.2,8.4,8.6,8.8,9,9.2,9.4,9.6,9.8,10,10.2,10.4,10.6,10.8,11], "labelExpr": "abs(datum.value - round(datum.value)) < 0.01 ? format(abs(datum.value), '.1f') : ''"}}
          }
        }
      ]
    }
  ],
  "resolve": {
    "scale": {"x": "independent", "y": "independent", "color": "independent"},
    "axis": {"x": "independent", "y": "independent"},
    "legend": {"color": "independent"}
  }
}
